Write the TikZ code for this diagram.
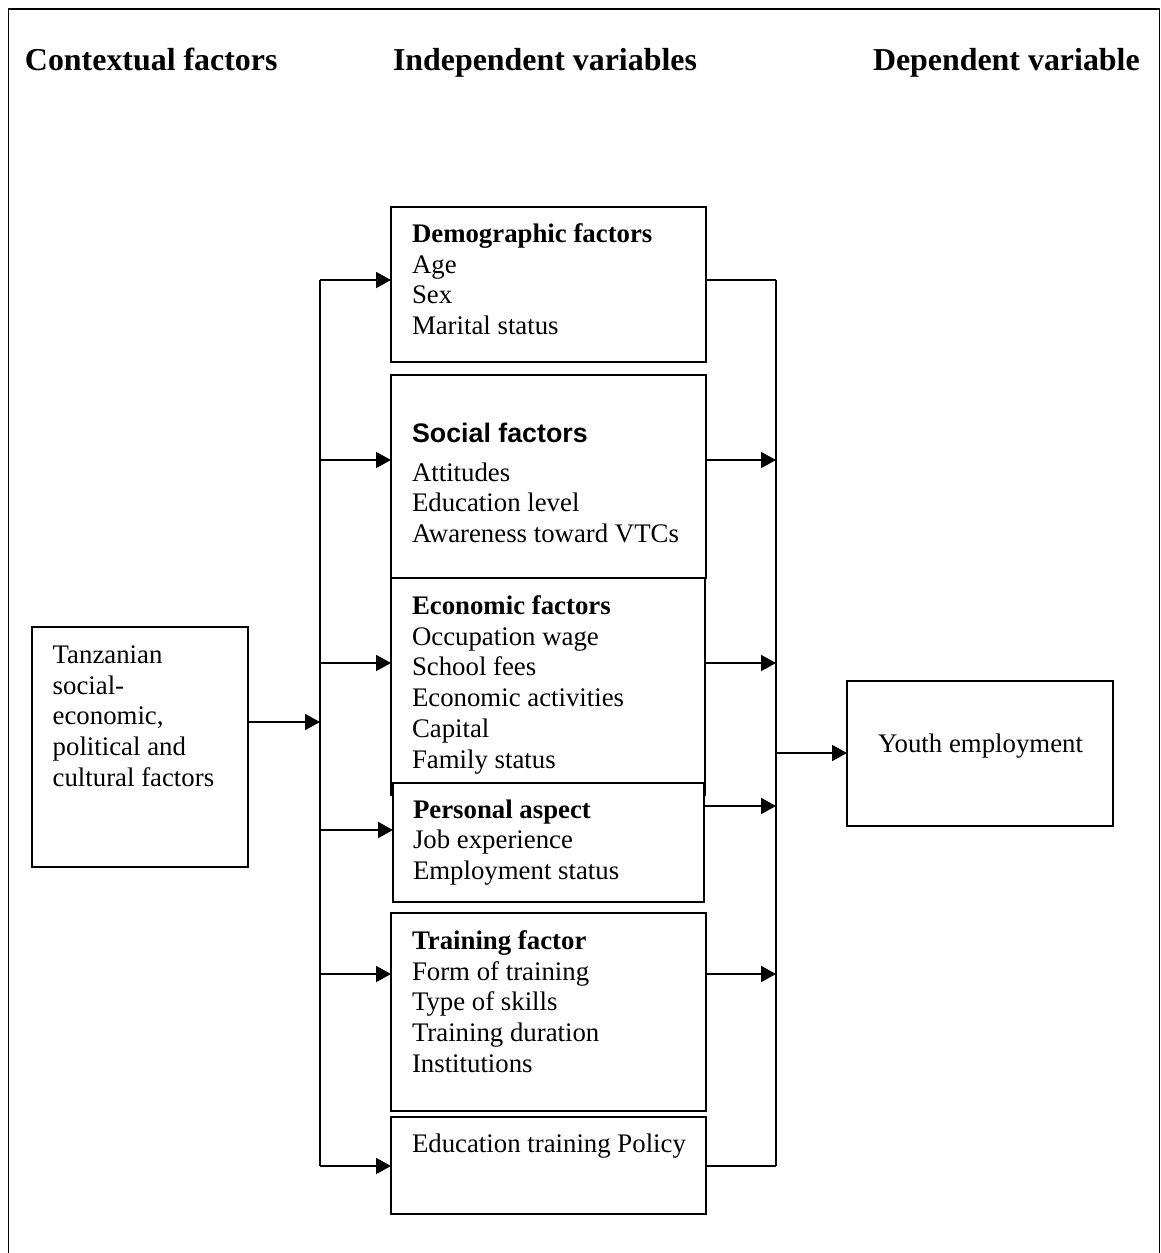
\documentclass[tikz,border=0pt]{standalone}
\usepackage{fontspec}
\setmainfont{Liberation Serif}
\newfontfamily\sansbold{Liberation Sans}
\usetikzlibrary{arrows.meta}
\newcommand\itemlist[1]{\begin{tabular}[t]{@{}l@{}}#1\end{tabular}}
\begin{document}
\begin{tikzpicture}[x=0.5pt,y=-0.5pt,
  line/.style={line width=0.95pt},
  arr/.style={line width=0.95pt,-{Triangle[length=7.5pt,width=8pt]}},
  box/.style={draw,line width=0.95pt,inner sep=0pt,outer sep=0pt,fill=white},
  txt/.style={anchor=base west,inner sep=0pt,outer sep=0pt,font=\fontsize{13.4}{15.375}\selectfont},
  head/.style={anchor=base west,inner sep=0pt,outer sep=0pt,font=\fontsize{15.95}{19}\selectfont\bfseries}]
\useasboundingbox (0,0) rectangle (1161,1253);
% outer frame (bottom open)
\draw[line] (8.5,1270) -- (8.5,9) -- (1159.5,9) -- (1159.5,1270);
% headers
\node[head] (h1) at (25,70) {Contextual factors};
\node[head] (h2) at (393,70) {Independent variables};
\node[head] (h3) at (873,70) {Dependent variable};
% boxes
\node[box,minimum width=157.5pt,minimum height=77.5pt] (demo) at (548.5,284.5) {};
\node[box,minimum width=157.5pt,minimum height=101.5pt] (social) at (548.5,476.5) {};
\node[box,minimum width=157pt,minimum height=108.5pt] (econ) at (548,686.5) {};
\node[box,minimum width=155.5pt,minimum height=59.5pt] (pers) at (548.5,842.5) {};
\node[box,minimum width=157.5pt,minimum height=99pt] (train) at (548.5,1012) {};
\node[box,minimum width=157.5pt,minimum height=48.5pt] (policy) at (548.5,1165.5) {};
\node[box,minimum width=108pt,minimum height=120pt] (ctx) at (140,747) {};
\node[box,minimum width=133pt,minimum height=72.5pt] (youth) at (980,753.5) {};
% texts
\node[txt] (demoT) at (412,242) {\bfseries Demographic factors};
\node[txt] (demoL) at (412,273) {\itemlist{Age\\Sex\\Marital status}};
\node[txt] (socT) at (412,442) {\sansbold\bfseries Social factors};
\node[txt] (socL) at (412,481) {\itemlist{Attitudes\\Education level\\Awareness toward VTCs}};
\node[txt] (econT) at (412,614) {\bfseries Economic factors};
\node[txt] (econL) at (412,645) {\itemlist{Occupation wage\\School fees\\Economic activities\\Capital\\Family status}};
\node[txt] (persT) at (413,818) {\bfseries Personal aspect};
\node[txt] (persL) at (413,848.5) {\itemlist{Job experience\\Employment status}};
\node[txt] (trainT) at (412,949) {\bfseries Training factor};
\node[txt] (trainL) at (412,980) {\itemlist{Form of training\\Type of skills\\Training duration\\Institutions}};
\node[txt] (polT) at (412,1152) {Education training Policy};
\node[txt] (ctxT) at (52.7,663.3) {\itemlist{Tanzanian\\social-\\economic,\\political and\\cultural factors}};
\node[txt] (youthT) at (878,752) {Youth employment};
% bus coordinates
\coordinate (L1) at (320,280);
\coordinate (L2) at (320,460);
\coordinate (L3) at (320,663);
\coordinate (L4) at (320,830);
\coordinate (L5) at (320,974);
\coordinate (L6) at (320,1166);
\coordinate (Lm) at (320,722);
\coordinate (R1) at (776,280);
\coordinate (R2) at (776,460);
\coordinate (R3) at (776,663);
\coordinate (R4) at (776,806);
\coordinate (R5) at (776,974);
\coordinate (R6) at (776,1166);
\coordinate (Rm) at (776,753);
% buses
\draw[line] (L1) -- (L6);
\draw[line] (R1) -- (R6);
% left arrows
\draw[arr] (ctx.east |- Lm) -- (Lm);
\draw[arr] (L1) -- (L1 -| demo.west);
\draw[arr] (L2) -- (L2 -| social.west);
\draw[arr] (L3) -- (L3 -| econ.west);
\draw[arr] (L4) -- (L4 -| pers.west);
\draw[arr] (L5) -- (L5 -| train.west);
\draw[arr] (L6) -- (L6 -| policy.west);
% right connections
\draw[line] (demo.east |- R1) -- (R1);
\draw[arr] (social.east |- R2) -- (R2);
\draw[arr] (econ.east |- R3) -- (R3);
\draw[arr] (pers.east |- R4) -- (R4);
\draw[arr] (train.east |- R5) -- (R5);
\draw[line] (policy.east |- R6) -- (R6);
\draw[arr] (Rm) -- (Rm -| youth.west);
\end{tikzpicture}
\end{document}
